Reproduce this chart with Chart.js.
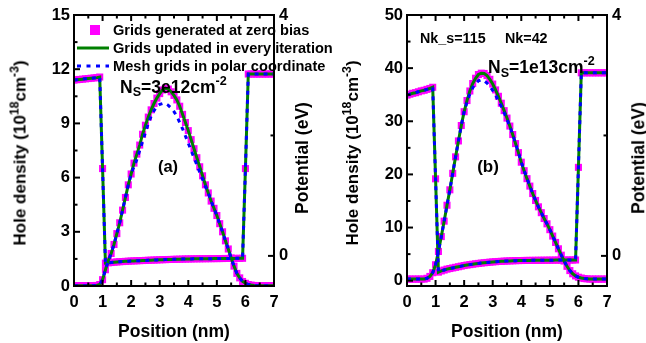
<!DOCTYPE html>
<html><head><meta charset="utf-8">
<script src="https://cdn.jsdelivr.net/npm/chart.js@4"></script>
<style>
html,body{margin:0;padding:0;background:#fff;}
#wrap{position:relative;width:646px;height:343px;overflow:hidden;font-family:"Liberation Sans",Arial,sans-serif;font-weight:bold;color:#000;}
canvas{position:absolute;top:0;}
.t{position:absolute;white-space:nowrap;line-height:1;}
.rot{transform:translate(-50%,-50%) rotate(-90deg);}
.ctr{transform:translate(-50%,-50%);}
.sup{position:relative;font-size:0.72em;top:-0.6em;}
.sub{position:relative;font-size:0.72em;top:0.3em;}
.lg{position:absolute;left:77px;width:32px;height:12px;}
</style></head>
<body>
<div id="wrap">
<canvas id="ca" width="323" height="343" style="left:0"></canvas>
<canvas id="cb" width="323" height="343" style="left:323px"></canvas>

<div class="t rot" style="left:20px;top:153px;font-size:17px">Hole density (10<span class="sup">18</span>cm<span class="sup">-3</span>)</div>
<div class="t rot" style="left:303px;top:158px;font-size:17.5px">Potential (eV)</div>
<div class="t ctr" style="left:174px;top:332px;font-size:17.5px">Position (nm)</div>
<div class="t" style="left:120px;top:78.5px;font-size:17.5px">N<span class="sub">S</span>=3e12cm<span class="sup">-2</span></div>
<div class="t ctr" style="left:168px;top:166px;font-size:16.5px">(a)</div>

<svg class="lg" style="top:24px"><rect x="13" y="1" width="10" height="10" fill="#ff00ff"/></svg>
<svg class="lg" style="top:42px"><line x1="0" y1="6" x2="32" y2="6" stroke="#008000" stroke-width="3"/></svg>
<svg class="lg" style="top:60px"><line x1="0" y1="6" x2="32" y2="6" stroke="#0000ff" stroke-width="3" stroke-dasharray="4 5.5"/></svg>
<div class="t" style="left:113px;top:23px;font-size:14.6px">Grids generated at zero bias</div>
<div class="t" style="left:113px;top:40.5px;font-size:14.6px">Grids updated in every iteration</div>
<div class="t" style="left:113px;top:58.5px;font-size:14.6px">Mesh grids in polar coordinate</div>

<div class="t rot" style="left:352px;top:153px;font-size:17px">Hole density (10<span class="sup">18</span>cm<span class="sup">-3</span>)</div>
<div class="t rot" style="left:639px;top:158px;font-size:17.5px">Potential (eV)</div>
<div class="t ctr" style="left:507px;top:332px;font-size:17.5px">Position (nm)</div>
<div class="t" style="left:488px;top:59px;font-size:17.5px">N<span class="sub">S</span>=1e13cm<span class="sup">-2</span></div>
<div class="t ctr" style="left:488px;top:166px;font-size:17px">(b)</div>
<div class="t" style="left:420px;top:31px;font-size:14.3px">Nk_s=115</div>
<div class="t" style="left:505px;top:31px;font-size:14.3px">Nk=42</div>
</div>

<script>
// ---- data ----
const positions = [0.0,0.1,0.2,0.3,0.4,0.5,0.6,0.7,0.8,0.9,
  1.0,1.1,1.2,1.3,1.4,1.5,1.6,1.7,1.8,1.9,
  2.0,2.1,2.2,2.3,2.4,2.5,2.6,2.7,2.8,2.9,
  3.0,3.1,3.2,3.3,3.4,3.5,3.6,3.7,3.8,3.9,
  4.0,4.1,4.2,4.3,4.4,4.5,4.6,4.7,4.8,4.9,
  5.0,5.1,5.2,5.3,5.4,5.5,5.6,5.7,5.8,5.9,
  6.0,6.1,6.2,6.3,6.4,6.5,6.6,6.7,6.8,6.9,
  7.0];

// panel (a): hole density (1e18 cm^-3)
const densityA_updated = [0.02,0.02,0.02,0.02,0.02,0.02,0.02,0.02,0.03,0.08,
  0.35,0.9,1.4,1.8,2.3,2.9,3.5,4.2,4.9,5.6,
  6.2,6.8,7.3,7.8,8.4,8.9,9.35,9.75,10.1,10.4,
  10.65,10.85,10.95,10.9,10.75,10.55,10.3,9.95,9.5,9.05,
  8.6,8.1,7.6,7.1,6.6,6.1,5.6,5.15,4.7,4.3,
  3.9,3.45,3.0,2.5,2.05,1.55,1.1,0.7,0.45,0.25,
  0.15,0.08,0.05,0.03,0.02,0.02,0.02,0.02,0.02,0.02,
  0.02];
const densityA_zeroBias = [0.02,0.02,0.02,0.02,0.02,0.02,0.02,0.02,0.03,0.08,
  0.35,0.9,1.4,1.8,2.3,2.9,3.5,4.2,4.9,5.6,
  6.2,6.8,7.3,7.8,8.4,8.9,9.35,9.75,10.1,10.4,
  10.65,10.85,10.95,10.9,10.75,10.55,10.3,9.95,9.5,9.05,
  8.6,8.1,7.6,7.1,6.6,6.1,5.6,5.15,4.7,4.3,
  3.9,3.45,3.0,2.5,2.05,1.55,1.1,0.7,0.45,0.25,
  0.15,0.08,0.05,0.03,0.02,0.02,0.02,0.02,0.02,0.02,
  0.02];
const densityA_polar = [0.02,0.02,0.02,0.02,0.02,0.02,0.02,0.02,0.03,0.08,
  0.35,0.9,1.4,1.8,2.3,2.9,3.5,4.2,4.9,5.6,
  6.2,6.6,7.0,7.5,8.0,8.5,9.0,9.4,9.7,9.95,
  10.05,10.1,10.1,10.0,9.85,9.65,9.4,9.05,8.7,8.3,
  7.9,7.5,7.1,6.7,6.3,5.9,5.5,5.15,4.7,4.3,
  3.9,3.45,3.0,2.5,2.05,1.55,1.1,0.7,0.45,0.25,
  0.15,0.08,0.05,0.03,0.02,0.02,0.02,0.02,0.02,0.02,
  0.02];
// panel (a): potential (eV)
const potentialA = [2.92,2.925,2.93,2.935,2.94,2.945,2.95,2.955,2.96,2.97,
  1.45,-0.12,-0.115,-0.11,-0.105,-0.1,-0.097,-0.094,-0.091,-0.088,
  -0.085,-0.083,-0.081,-0.079,-0.077,-0.075,-0.073,-0.071,-0.069,-0.067,
  -0.065,-0.063,-0.062,-0.06,-0.059,-0.057,-0.056,-0.055,-0.053,-0.052,
  -0.051,-0.05,-0.049,-0.048,-0.048,-0.047,-0.047,-0.046,-0.046,-0.045,
  -0.045,-0.044,-0.044,-0.043,-0.043,-0.042,-0.042,-0.041,-0.041,-0.04,
  1.45,3.02,3.02,3.02,3.02,3.02,3.02,3.02,3.02,3.02,
  3.02];

// panel (b): hole density (1e18 cm^-3)
const densityB_updated = [0.3,0.3,0.3,0.3,0.3,0.3,0.3,0.45,0.8,1.5,
  3.0,5.5,8.3,11.2,14.2,17.1,20.2,23.3,26.3,29.2,
  31.8,33.9,35.7,37.1,38.1,38.8,39.05,39.0,38.6,37.9,
  37.0,35.9,34.7,33.4,32.0,30.6,29.1,27.5,25.8,24.1,
  22.3,20.7,19.2,17.8,16.4,15.1,13.9,12.8,11.7,10.7,
  9.6,8.4,7.2,6.0,4.8,3.7,2.7,1.9,1.3,0.9,
  0.65,0.5,0.4,0.35,0.3,0.3,0.3,0.3,0.3,0.3,
  0.3];
const densityB_zeroBias = [0.3,0.3,0.3,0.3,0.3,0.3,0.3,0.45,0.8,1.5,
  3.0,5.5,8.3,11.2,14.2,17.1,20.2,23.3,26.3,29.2,
  31.8,33.9,35.7,37.1,38.1,38.8,39.05,39.0,38.6,37.9,
  37.0,35.9,34.7,33.4,32.0,30.6,29.1,27.5,25.8,24.1,
  22.3,20.7,19.2,17.8,16.4,15.1,13.9,12.8,11.7,10.7,
  9.6,8.4,7.2,6.0,4.8,3.7,2.7,1.9,1.3,0.9,
  0.65,0.5,0.4,0.35,0.3,0.3,0.3,0.3,0.3,0.3,
  0.3];
const densityB_polar = [0.3,0.3,0.3,0.3,0.3,0.3,0.3,0.45,0.8,1.5,
  3.0,5.5,8.3,11.2,14.2,17.1,20.2,23.3,26.3,29.2,
  31.8,33.6,35.1,36.3,37.1,37.6,37.8,37.6,37.2,36.6,
  35.8,34.9,33.9,32.8,31.6,30.3,29.0,27.5,25.8,24.1,
  22.3,20.7,19.2,17.8,16.4,15.1,13.9,12.8,11.7,10.7,
  9.6,8.4,7.2,6.0,4.8,3.7,2.7,1.9,1.3,0.9,
  0.65,0.5,0.4,0.35,0.3,0.3,0.3,0.3,0.3,0.3,
  0.3];
// panel (b): potential (eV)
const potentialB = [2.67,2.685,2.7,2.71,2.725,2.74,2.75,2.765,2.78,2.8,
  1.28,-0.27,-0.25,-0.235,-0.22,-0.21,-0.2,-0.19,-0.18,-0.17,
  -0.16,-0.152,-0.145,-0.138,-0.131,-0.125,-0.119,-0.114,-0.109,-0.104,
  -0.1,-0.096,-0.093,-0.09,-0.087,-0.085,-0.083,-0.081,-0.079,-0.078,
  -0.077,-0.076,-0.075,-0.075,-0.074,-0.074,-0.073,-0.073,-0.072,-0.072,
  -0.071,-0.071,-0.07,-0.07,-0.07,-0.069,-0.069,-0.069,-0.068,-0.068,
  1.47,3.04,3.04,3.04,3.04,3.04,3.04,3.04,3.04,3.04,
  3.04];

// tick labels
const positionTicks = [0,1,2,3,4,5,6,7];
const densityTicksA = [0,3,6,9,12,15];
const densityTicksB = [0,10,20,30,40,50];
const potentialTicks = [0,4];

// ---- drawing ----
const MAGENTA = '#ff00ff', GREEN = '#008000', BLUE = '#0000ff';
const pts = vals => positions.map((x,i)=>({x:x, y:vals[i]}));
const mids = v => v.slice(1).map((b,i)=>(b+v[i])/2);

const framePlugin = {
  id:'frame',
  afterDatasetsDraw(chart){
    const {ctx, chartArea:a, scales} = chart;
    ctx.save();
    ctx.strokeStyle = '#000';
    ctx.lineWidth = 2;
    ctx.strokeRect(a.left, a.top, a.right - a.left, a.bottom - a.top);
    const seg = (x1,y1,x2,y2)=>{ctx.beginPath();ctx.moveTo(x1,y1);ctx.lineTo(x2,y2);ctx.stroke();};
    const MAJ = 6, MIN = 3.5;
    const xv = scales.x.ticks.map(t=>t.value);
    xv.forEach(v=>{const p=scales.x.getPixelForValue(v); seg(p,a.bottom,p,a.bottom-MAJ); seg(p,a.top,p,a.top+MAJ);});
    mids(xv).forEach(v=>{const p=scales.x.getPixelForValue(v); seg(p,a.bottom,p,a.bottom-MIN); seg(p,a.top,p,a.top+MIN);});
    const yv = scales.y.ticks.map(t=>t.value);
    yv.forEach(v=>{const p=scales.y.getPixelForValue(v); seg(a.left,p,a.left+MAJ,p);});
    mids(yv).forEach(v=>{const p=scales.y.getPixelForValue(v); seg(a.left,p,a.left+MIN,p);});
    const rv = scales.y1.ticks.map(t=>t.value);
    rv.forEach(v=>{const p=scales.y1.getPixelForValue(v); seg(a.right,p,a.right-MAJ,p);});
    mids(rv).forEach(v=>{const p=scales.y1.getPixelForValue(v); seg(a.right,p,a.right-MIN,p);});
    ctx.restore();
  }
};

const tickFont = {family:'"Liberation Sans", Arial, sans-serif', weight:'bold', size:16.5};

function panel(id, d){
  const ds = (label, vals, axis, kind) => {
    const base = {label, data: pts(vals), yAxisID: axis, clip: 0, tension: 0};
    if (kind === 'zero') return Object.assign(base, {showLine:false, pointStyle:'rect', pointRadius:5, pointHoverRadius:5,
        pointBackgroundColor:MAGENTA, pointBorderWidth:0, borderColor:MAGENTA, backgroundColor:MAGENTA, order:3});
    if (kind === 'upd') return Object.assign(base, {showLine:true, pointRadius:0, borderColor:GREEN, borderWidth:3, order:2});
    return Object.assign(base, {showLine:true, pointRadius:0, borderColor:BLUE, borderWidth:3, borderDash:[4,5], order:1});
  };
  new Chart(document.getElementById(id), {
    type:'scatter',
    data:{datasets:[
      ds('Grids generated at zero bias', d.densZero, 'y', 'zero'),
      ds('Grids generated at zero bias', d.pot, 'y1', 'zero'),
      ds('Grids updated in every iteration', d.densUpd, 'y', 'upd'),
      ds('Grids updated in every iteration', d.pot, 'y1', 'upd'),
      ds('Mesh grids in polar coordinate', d.densPolar, 'y', 'polar'),
      ds('Mesh grids in polar coordinate', d.pot, 'y1', 'polar'),
    ]},
    options:{
      responsive:false, animation:false, devicePixelRatio:1,
      layout:{padding:{top:15,left:0,right:0,bottom:0}},
      plugins:{legend:{display:false}, tooltip:{enabled:false}},
      scales:{
        x:{type:'linear', min:0, max:7, position:'bottom',
          grid:{display:false, drawTicks:false}, border:{display:false},
          ticks:{font:tickFont, color:'#000', padding:7, maxRotation:0},
          afterBuildTicks:s=>{s.ticks = positionTicks.map(v=>({value:v}));},
          afterFit:s=>{s.height = 57;}},
        y:{type:'linear', min:d.ymin, max:d.ymax, position:'left',
          grid:{display:false, drawTicks:false}, border:{display:false},
          ticks:{font:tickFont, color:'#000', padding:4},
          afterBuildTicks:s=>{s.ticks = d.yTicks.map(v=>({value:v}));},
          afterFit:s=>{s.width = d.leftW;}},
        y1:{type:'linear', min:-0.5, max:4, position:'right',
          grid:{display:false, drawTicks:false}, border:{display:false},
          ticks:{font:tickFont, color:'#000', padding:5},
          afterBuildTicks:s=>{s.ticks = potentialTicks.map(v=>({value:v}));},
          afterFit:s=>{s.width = d.rightW;}}
      }
    },
    plugins:[framePlugin]
  });
}

panel('ca', {densZero:densityA_zeroBias, densUpd:densityA_updated, densPolar:densityA_polar, pot:potentialA,
  ymin:0, ymax:15, yTicks:densityTicksA, leftW:74, rightW:49});
panel('cb', {densZero:densityB_zeroBias, densUpd:densityB_updated, densPolar:densityB_polar, pot:potentialB,
  ymin:-1, ymax:50, yTicks:densityTicksB, leftW:84, rightW:39});
</script>
</body></html>
